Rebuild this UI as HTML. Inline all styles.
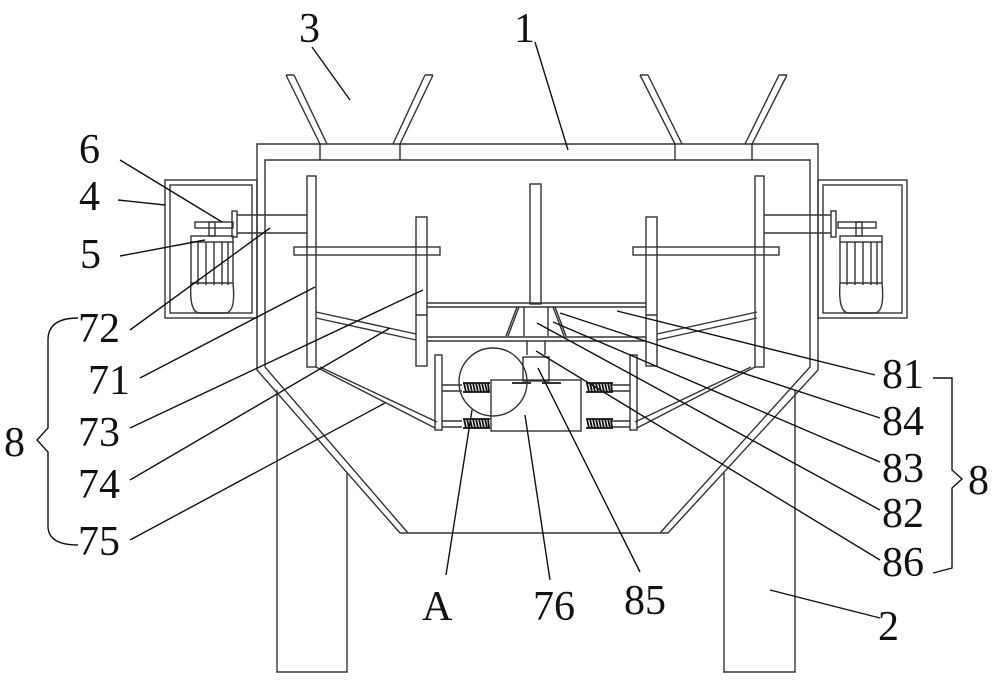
<!DOCTYPE html>
<html><head><meta charset="utf-8"><style>
html,body{margin:0;padding:0;background:#fff}
svg{display:block}
text{font-family:"Liberation Serif",serif;font-size:42px;fill:#111}
</style></head><body>
<svg width="1000" height="681" viewBox="0 0 1000 681" xmlns="http://www.w3.org/2000/svg">
<g fill="none" stroke="#333" stroke-width="1.4">
<!-- hoppers -->
<path d="M286 75 L320 144 M294 75 L327 144 M286 75 H294 M433 75 L400 144 M425 75 L393 144 M425 75 H433"/>
<path d="M640 75 L675 144 M648 75 L682 144 M640 75 H648 M787 75 L752 144 M779 75 L745 144 M779 75 H787"/>
<!-- main body -->
<path d="M257 370 V144 H818 V370 L668 533 H400 Z"/>
<path d="M265 367 V160 H810 V367 L660 533 M408 533 L265 367"/>
<path d="M320 144 V160 M400 144 V160 M675 144 V160 M752 144 V160"/>
<!-- legs -->
<path d="M277 390 V672 H347 V473"/>
<path d="M724 473 V672 H795 V390"/>
<!-- side boxes -->
<rect x="165" y="180" width="92" height="138"/><rect x="170" y="185" width="82" height="128"/>
<rect x="818" y="180" width="89" height="138"/><rect x="823" y="185" width="79" height="128"/>
<!-- left motor -->
<rect x="191" y="236" width="42" height="6"/>
<path d="M191 242 V283 M233 242 V283 M198 242 V285 M206 242 V285 M214 242 V285 M222 242 V285 M228 242 V285"/>
<path d="M191 283 Q189 313 200 313 H225 Q236 313 233 283 Z"/>
<rect x="195" y="222" width="38" height="6"/><rect x="209" y="222" width="6" height="14"/>
<rect x="232" y="211" width="5" height="26"/>
<path d="M237 215 H307 M237 233 H307"/>
<!-- right motor -->
<rect x="840" y="236" width="42" height="6"/>
<path d="M840 242 V283 M882 242 V283 M847 242 V285 M855 242 V285 M863 242 V285 M871 242 V285 M877 242 V285"/>
<path d="M840 283 Q838 313 849 313 H874 Q885 313 882 283 Z"/>
<rect x="838" y="222" width="38" height="6"/><rect x="856" y="222" width="6" height="14"/>
<rect x="831" y="211" width="5" height="26"/>
<path d="M764 215 H831 M764 233 H831"/>
<!-- stirring -->
<rect x="307" y="176" width="9" height="191"/>
<rect x="755" y="176" width="9" height="191"/>
<rect x="294" y="247" width="146" height="8"/>
<rect x="633" y="247" width="146" height="8"/>
<rect x="416" y="217" width="11" height="149"/>
<rect x="646" y="217" width="11" height="149"/>
<rect x="530" y="184" width="11" height="120"/>
<path d="M427 303 H646 M427 307 H646 M427 337 H646 M427 341 H646 M416 315 H427 M646 315 H657"/>
<path d="M524 307 V336 M548 307 V336 M519 307 L508 336 M517 307 L506 336 M553 307 L564 336 M555 307 L566 336"/>
<path d="M527 341 V355 M545 341 V355"/>
<rect x="523" y="357" width="26" height="24"/>
<!-- inner slants -->
<path d="M316 312 L416 334 M316 318 L416 340 M757 312 L657 334 M757 318 L657 340"/>
<path d="M316 367 L435 428 M320 367 L437 422 M755 367 L637 428 M751 367 L635 422"/>
<rect x="435" y="355" width="7" height="75"/>
<rect x="630" y="355" width="7" height="75"/>
<!-- box 76 -->
<rect x="491" y="380" width="90" height="51"/>
<path d="M442 385 H462 M442 391 H462 M442 421 H462 M442 427 H462 M611 385 H630 M611 391 H630 M611 421 H630 M611 427 H630"/>
<path d="M512 383 H531 M542 383 H561" stroke-width="2"/>
<circle cx="493" cy="382" r="34"/>
</g>
<!-- springs -->
<g fill="none" stroke="#111" stroke-width="1.8">
<path id="sp" d="M463 383 H490 M463 392 H490 M464 383 l2 9 M467 383 l2 9 M470 383 l2 9 M473 383 l2 9 M476 383 l2 9 M479 383 l2 9 M482 383 l2 9 M485 383 l2 9 M488 383 l1 9"/>
<use href="#sp" y="36"/><use href="#sp" x="123"/><use href="#sp" x="123" y="36"/>
</g>
<!-- leaders -->
<g stroke="#111" stroke-width="1.4" fill="none">
<path d="M312 47 L350 100"/><path d="M535 42 L568 150"/>
<path d="M120 160 L222 222"/><path d="M118 200 L165 205"/><path d="M120 256 L205 240"/>
<path d="M130 330 L270 228"/><path d="M140 378 L315 287"/><path d="M130 428 L423 290"/>
<path d="M130 480 L390 328"/><path d="M130 540 L385 403"/>
<path d="M617 311 L875 375"/><path d="M560 313 L880 418"/><path d="M553 322 L880 462"/>
<path d="M537 323 L880 510"/><path d="M536 351 L880 560"/>
<path d="M538 368 L640 572"/><path d="M525 415 L550 580"/><path d="M472 410 L446 575"/>
<path d="M770 590 L880 618"/>
<path d="M78 318 Q48 318 48 340 V428 L37 440 L48 452 V526 Q48 545 78 545"/>
<path d="M933 378 H952 V470 L962 479 L952 488 V568 L933 573"/>
</g>
<g>
<text x="299" y="42">3</text><text x="514" y="42">1</text>
<text x="79" y="163">6</text><text x="79" y="210">4</text><text x="80" y="268">5</text>
<text x="78" y="342">72</text><text x="88" y="394">71</text><text x="78" y="446">73</text>
<text x="78" y="498">74</text><text x="78" y="555">75</text>
<text x="4" y="456">8</text>
<text x="882" y="388">81</text><text x="882" y="435">84</text><text x="882" y="482">83</text>
<text x="882" y="527">82</text><text x="882" y="576">86</text><text x="968" y="494">8</text>
<text x="422" y="620">A</text><text x="533" y="620">76</text><text x="624" y="614">85</text>
<text x="878" y="640">2</text>
</g>
</svg>
</body></html>
